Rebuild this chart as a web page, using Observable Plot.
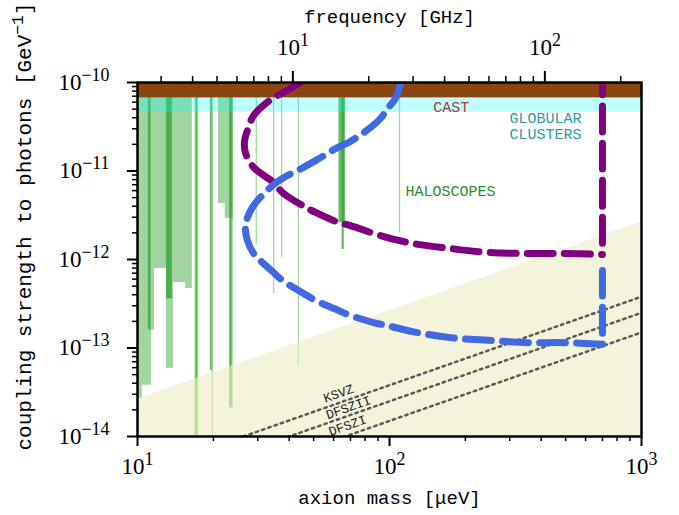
<!DOCTYPE html>
<html>
<head>
<meta charset="utf-8">
<script src="https://cdn.jsdelivr.net/npm/d3@7"></script>
<script src="https://cdn.jsdelivr.net/npm/@observablehq/plot@0.6"></script>
<style>body{margin:0;background:#fff}</style>
</head>
<body>
<div id="chart"></div>
<script>
// conversion: axion mass (µeV) per GHz of photon frequency
const UEV_PER_GHZ = 4.135667;

// ticks
const xMajor = [10, 100, 1000];
const xMinor = [20, 30, 40, 50, 60, 70, 80, 90, 200, 300, 400, 500, 600, 700, 800, 900];
const yMajor = [1e-14, 1e-13, 1e-12, 1e-11, 1e-10];
const yMinor = [2e-14, 3e-14, 4e-14, 5e-14, 6e-14, 7e-14, 8e-14, 9e-14,
                2e-13, 3e-13, 4e-13, 5e-13, 6e-13, 7e-13, 8e-13, 9e-13,
                2e-12, 3e-12, 4e-12, 5e-12, 6e-12, 7e-12, 8e-12, 9e-12,
                2e-11, 3e-11, 4e-11, 5e-11, 6e-11, 7e-11, 8e-11, 9e-11];
const fMajor = [10, 100];                 // GHz
const fMinor = [3, 4, 5, 6, 7, 8, 9, 20, 30, 40, 50, 60, 70, 80, 90, 200];

// limits
const castLimit = 6.7e-11;
const gcLimit = 4.6e-11;
const gTop = 1e-10;

// haloscope exclusions: mass range [m1, m2] µeV, excluded down to g
const haloLight = [
  {m1: 10.0, m2: 10.45, g: 2.7e-14},
  {m1: 10.45, m2: 11.36, g: 3.8e-14},
  {m1: 11.36, m2: 11.68, g: 1.6e-13},
  {m1: 11.68, m2: 13.03, g: 7.9e-13},
  {m1: 13.03, m2: 13.9, g: 5.9e-14},
  {m1: 13.9, m2: 15.5, g: 5.5e-13},
  {m1: 15.5, m2: 16.5, g: 4.7e-13},
  {m1: 16.9, m2: 17.5, g: 1.0e-14},
  {m1: 19.75, m2: 20.05, g: 1.0e-14},
  {m1: 20.95, m2: 22.3, g: 4.3e-12},
  {m1: 22.3, m2: 24.0, g: 2.9e-12},
  {m1: 23.2, m2: 24.0, g: 2.1e-14}
];
const haloDark = [
  {m1: 11.05, m2: 11.32, g: 1.6e-13},
  {m1: 13.03, m2: 13.75, g: 3.6e-13},
  {m1: 17.1, m2: 17.3, g: 1.0e-14},
  {m1: 19.45, m2: 19.8, g: 5.6e-14},
  {m1: 23.3, m2: 23.7, g: 2.1e-14},
  {m1: 63.0, m2: 67.0, g: 2.6e-12},
  {m1: 64.8, m2: 66.2, g: 1.3e-12}
];
const haloLineMass = [29.6, 34.7, 37.3, 43.5, 109.6];
const haloLineG = [1.5e-12, 4.1e-13, 1.05e-12, 6.3e-14, 2.0e-12];

// QCD axion band (upper edge) and model lines
const modelMass = [10, 1000];
const qcdUpper = [2.65e-14, 2.65e-12];
const ksvzG = [3.8e-15, 3.8e-13];
const dfsz2G = [2.5e-15, 2.5e-13];
const dfsz1G = [1.5e-15, 1.5e-13];

// projected sensitivities
const purpleMass = [44.3, 37.9, 34.3, 28.9, 27.3, 26.6, 26.8, 28.9, 34.7, 37.6, 45.2, 50.9, 62.8, 70.0, 86.4, 98.2, 123.4, 174.6, 247, 353, 490, 700];
const purpleG = [1.0e-10, 7.7e-11, 6.6e-11, 4.24e-11, 2.87e-11, 2.2e-11, 1.62e-11, 1.10e-11, 7.41e-12, 5.71e-12, 4.07e-12, 3.40e-12, 2.62e-12, 2.42e-12, 1.97e-12, 1.77e-12, 1.52e-12, 1.33e-12, 1.20e-12, 1.17e-12, 1.17e-12, 1.14e-12];
const purpleEdgeG = [1.14e-12, 1.0e-10];
const blueMass = [110.7, 105.7, 98.2, 92.1, 84.1, 68.8, 62.2, 50.9, 45.6, 37.6, 34.3, 28.9, 27.3, 26.8, 27.3, 28.9, 34.7, 37.6, 45.6, 50.9, 62.8, 70.0, 86.4, 98.2, 123.4, 174.6, 247, 353, 490, 700];
const blueG = [1.0e-10, 6.6e-11, 5.08e-11, 3.92e-11, 3.10e-11, 2.10e-11, 1.84e-11, 1.31e-11, 1.10e-11, 8.23e-12, 6.85e-12, 4.07e-12, 2.98e-12, 2.24e-12, 1.64e-12, 1.17e-12, 7.13e-13, 5.80e-13, 4.13e-13, 3.44e-13, 2.65e-13, 2.33e-13, 1.94e-13, 1.79e-13, 1.53e-13, 1.31e-13, 1.22e-13, 1.15e-13, 1.15e-13, 1.10e-13];
const blueEdgeG = [1.10e-13, 7.5e-13];
const edgeMass = [700, 700];

const zip = (ms, gs) => ms.map((m, i) => ({m, g: gs[i]}));
const purple = zip(purpleMass, purpleG);
const blue = zip(blueMass, blueG);
const qcd = zip(modelMass, qcdUpper);
const haloLines = zip(haloLineMass, haloLineG);
const fMajorMass = fMajor.map(f => f * UEV_PER_GHZ);
const fMinorMass = fMinor.map(f => f * UEV_PER_GHZ);

const sup = e => "10^{" + String(e).replace("-", "\u2212") + "}";
const fmtMass = v => sup(Math.round(Math.log10(v)));
const fmtFreq = v => sup(Math.round(Math.log10(v / UEV_PER_GHZ)));

const GREEN = "#2ca02c";
const SERIF = "Liberation Serif";
const MONO = "Liberation Mono";
const dash = "25.9,11.2";
const TICK_FS = 23;

const chart = Plot.plot({
  width: 679,
  height: 515,
  marginLeft: 137,
  marginRight: 38,
  marginTop: 82,
  marginBottom: 79,
  style: {fontFamily: MONO, fontSize: "15px", background: "white", overflow: "visible"},
  x: {type: "log", domain: [10, 1000], axis: null},
  y: {type: "log", domain: [1e-14, 1e-10], axis: null},
  marks: [
    Plot.rect(haloLight, {x1: "m1", x2: "m2", y1: "g", y2: gTop, fill: GREEN, fillOpacity: 0.45}),
    Plot.rect(haloDark, {x1: "m1", x2: "m2", y1: "g", y2: gTop, fill: GREEN, fillOpacity: 0.7}),
    Plot.ruleX(haloLines, {x: "m", y1: "g", y2: gTop, stroke: GREEN, strokeOpacity: 0.45, strokeWidth: 1.2}),
    Plot.areaY(qcd, {x: "m", y1: 1e-14, y2: "g", fill: "rgb(237,237,197)", fillOpacity: 0.6}),
    Plot.rect([gcLimit], {x1: 10, x2: 1000, y1: d => d, y2: gTop, fill: "cyan", fillOpacity: 0.25}),
    Plot.rect([castLimit], {x1: 10, x2: 1000, y1: d => d, y2: gTop, fill: "#8b4513"}),
    Plot.line(zip(modelMass, ksvzG), {x: "m", y: "g", stroke: "#5a5a5a", strokeWidth: 2.5, strokeDasharray: "2.5,4.1", clip: true}),
    Plot.line(zip(modelMass, dfsz2G), {x: "m", y: "g", stroke: "#5a5a5a", strokeWidth: 2.5, strokeDasharray: "2.5,4.1", clip: true}),
    Plot.line(zip(modelMass, dfsz1G), {x: "m", y: "g", stroke: "#5a5a5a", strokeWidth: 2.5, strokeDasharray: "2.5,4.1", clip: true}),
    Plot.line(purple, {x: "m", y: "g", stroke: "purple", strokeWidth: 7, strokeDasharray: dash, curve: "catmull-rom", clip: true}),
    Plot.line(zip(edgeMass, purpleEdgeG), {x: "m", y: "g", stroke: "purple", strokeWidth: 7, strokeDasharray: dash, strokeDashoffset: 25.9, clip: true}),
    Plot.line(blue, {x: "m", y: "g", stroke: "royalblue", strokeWidth: 7, strokeDasharray: dash, curve: "catmull-rom", clip: true}),
    Plot.line(zip(edgeMass, blueEdgeG), {x: "m", y: "g", stroke: "royalblue", strokeWidth: 7, strokeDasharray: dash, strokeDashoffset: 25.9, clip: true}),
    Plot.text(["CAST"], {x: 176, y: 5.22e-11, text: d => d, fill: "#a83c32", fontSize: 15}),
    Plot.text(["GLOBULAR\nCLUSTERS"], {x: 416, y: 3.23e-11, text: d => d, fill: "#2a9d9d", fontSize: 15, lineHeight: 1.05}),
    Plot.text(["HALOSCOPES"], {x: 174.6, y: 5.86e-12, text: d => d, fill: "#2e8b2e", fontSize: 15}),
    Plot.text(["KSVZ"], {x: 62.8, y: 3.06e-14, text: d => d, fill: "#222", fontSize: 13, rotate: -19.4}),
    Plot.text(["DFSZII"], {x: 68.7, y: 2.13e-14, text: d => d, fill: "#222", fontSize: 13, rotate: -19.4}),
    Plot.text(["DFSZI"], {x: 68.1, y: 1.33e-14, text: d => d, fill: "#222", fontSize: 13, rotate: -19.4}),
    Plot.frame({stroke: "black", strokeWidth: 2.5}),
    // bottom axis (mass)
    Plot.axisX(xMajor, {anchor: "bottom", tickSize: 10, tickPadding: 11, strokeWidth: 2, tickFormat: fmtMass, fontSize: TICK_FS, fontFamily: SERIF, fill: "black", label: null}),
    Plot.axisX(xMinor, {anchor: "bottom", tickSize: 5, strokeWidth: 1.5, tickFormat: () => "", label: null}),
    // left axis (coupling)
    Plot.axisY(yMajor, {anchor: "left", tickSize: 10, tickPadding: 18, strokeWidth: 2, tickFormat: fmtMass, fontSize: TICK_FS, fontFamily: SERIF, fill: "black", label: null}),
    Plot.axisY(yMinor, {anchor: "left", tickSize: 5, strokeWidth: 1.5, tickFormat: () => "", label: null}),
    // top axis (frequency), drawn with rules and text on the same mass scale
    Plot.ruleX(fMajorMass, {x: d => d, y1: gTop, y2: gTop, insetBottom: 11, stroke: "black", strokeWidth: 2}),
    Plot.ruleX(fMinorMass, {x: d => d, y1: gTop, y2: gTop, insetBottom: 6, stroke: "black", strokeWidth: 1.5}),
    Plot.text(fMajorMass, {x: d => d, y: gTop, dy: -35, text: fmtFreq, fontSize: TICK_FS, fontFamily: SERIF, fill: "black", lineAnchor: "middle"}),
    // axis titles
    Plot.text(["axion mass [\u03bceV]"], {frameAnchor: "bottom", dy: 61, text: d => d, fontSize: 19, fill: "black", textAnchor: "middle", lineAnchor: "middle"}),
    Plot.text(["frequency [GHz]"], {frameAnchor: "top", dy: -66, text: d => d, fontSize: 19, fill: "black", textAnchor: "middle", lineAnchor: "middle"}),
    Plot.text(["coupling strength to photons [GeV^{\u22121}]"], {frameAnchor: "left", dx: -113, dy: -33, rotate: -90, text: d => d, fontSize: 21, fill: "black", textAnchor: "middle", lineAnchor: "middle"})
  ]
});

document.getElementById("chart").appendChild(chart);

// render "a^{b}c" as real text with a raised, smaller tspan
chart.querySelectorAll("text").forEach(t => {
  if (t.children.length) return;
  const s = t.textContent;
  if (!s.includes("^{")) return;
  const fs = parseFloat(getComputedStyle(t).fontSize) || 15;
  const parts = s.split(/\^\{|\}/);
  t.textContent = "";
  const ns = "http://www.w3.org/2000/svg";
  const shift = 0.4 * fs;
  parts.forEach((p, i) => {
    if (!p) return;
    const span = document.createElementNS(ns, "tspan");
    span.textContent = p;
    if (i % 2 === 1) {
      span.setAttribute("dy", -shift);
      span.setAttribute("font-size", (0.78 * fs).toFixed(1));
    } else if (i > 0) {
      span.setAttribute("dy", shift);
    }
    t.appendChild(span);
  });
});
</script>
</body>
</html>
